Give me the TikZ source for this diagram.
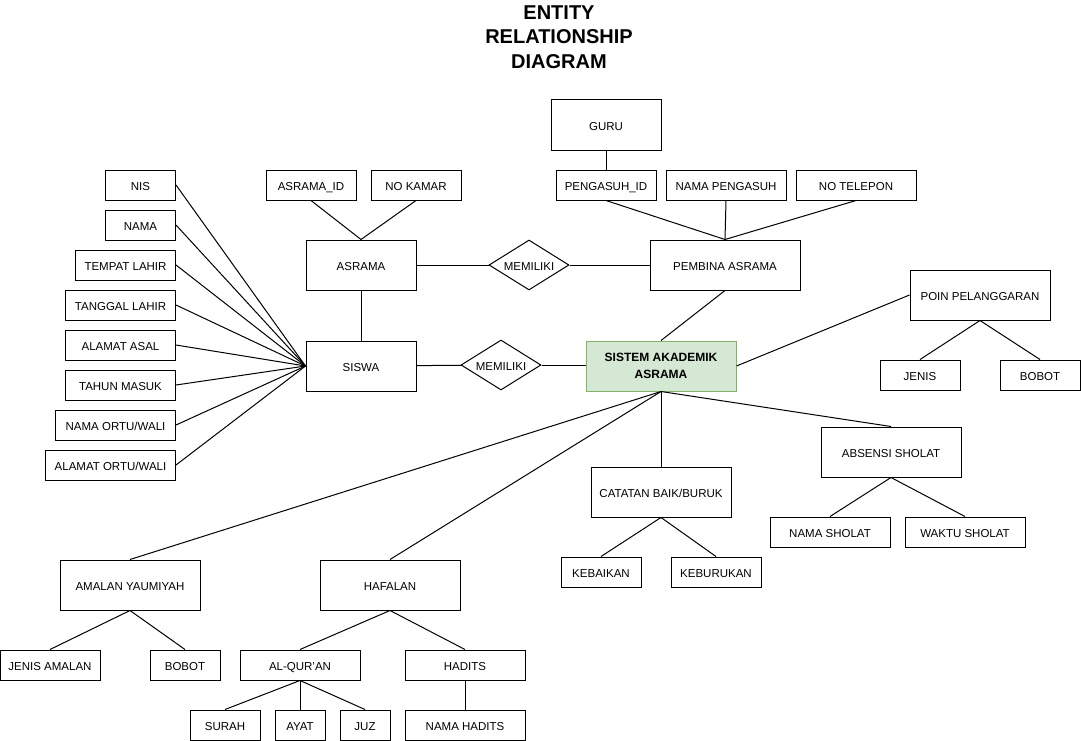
\documentclass[tikz,border=0pt]{standalone}
\usepackage{fontspec}
\setmainfont{Liberation Sans}
\usetikzlibrary{shapes.geometric, positioning}
\definecolor{sistemfill}{HTML}{D5E8D4}
\definecolor{sistemline}{HTML}{82B366}

\begin{document}
\begin{tikzpicture}[x=1pt, y=-1pt, line width=1pt,
	entity/.style={draw,
	minimum width=#1,
	minimum height=50pt,
	inner sep=0pt,
	text height=11pt, text depth=0pt,
	font=\fontsize{11.5}{13}\selectfont},
	attr/.style={draw,
	minimum width=#1,
	minimum height=30pt,
	inner sep=0pt,
	text height=11pt, text depth=0pt,
	font=\fontsize{11.5}{13}\selectfont},
	rel/.style={draw, diamond,
	shape aspect=1.6,
	minimum width=80pt,
	minimum height=50pt,
	inner sep=0pt,
	text height=11pt, text depth=0pt,
	font=\fontsize{11.5}{13}\selectfont}]
	\useasboundingbox (0,0) rectangle (1081,741);
	% title
	\node[font=\fontsize{20}{24.5}\selectfont\bfseries, align=center] (title) at (559,37) {ENTITY\\RELATIONSHIP\\DIAGRAM};
	% entities
	\node[entity=110pt] (asrama) at (361,265) {ASRAMA};
	\node[entity=110pt, below=50pt of asrama] (siswa) {SISWA};
	\node[entity=110pt] (guru) at (606,125) {GURU};
	\node[entity=150pt] (pembina) at (725,265) {PEMBINA ASRAMA};
	\node[draw=sistemline, fill=sistemfill, minimum width=150pt, minimum height=50pt, inner sep=0pt,
	font=\fontsize{12}{16.5}\selectfont\bfseries, align=center] (sistem) at (661,366) {SISTEM AKADEMIK\\ASRAMA};
	\node[entity=140pt] (poin) at (980,295) {POIN PELANGGARAN};
	\node[entity=140pt] (catatan) at (661,492) {CATATAN BAIK/BURUK};
	\node[entity=140pt] (absensi) at (891,452) {ABSENSI SHOLAT};
	\node[entity=140pt] (amalan) at (130,585) {AMALAN YAUMIYAH};
	\node[entity=140pt] (hafalan) at (390,585) {HAFALAN};
	% relations
	\node[rel] (memiliki1) at (529,265) {MEMILIKI};
	\node[rel] (memiliki2) at (501,365) {MEMILIKI};
	% attributes of siswa
	\node[attr=70pt, anchor=east] (nis) at (176,185) {NIS};
	\node[attr=70pt, anchor=east] (nama) at (176,225) {NAMA};
	\node[attr=100pt, anchor=east] (tempat) at (176,265) {TEMPAT LAHIR};
	\node[attr=110pt, anchor=east] (tanggal) at (176,305) {TANGGAL LAHIR};
	\node[attr=110pt, anchor=east] (alamat) at (176,345) {ALAMAT ASAL};
	\node[attr=110pt, anchor=east] (tahun) at (176,385) {TAHUN MASUK};
	\node[attr=120pt, anchor=east] (ortu) at (176,425) {NAMA ORTU/WALI};
	\node[attr=130pt, anchor=east] (alamatortu) at (176,465) {ALAMAT ORTU/WALI};
	% attributes of asrama and pembina
	\node[attr=90pt] (asramaid) at (311,185) {ASRAMA\_ID};
	\node[attr=90pt] (kamar) at (416,185) {NO KAMAR};
	\node[attr=100pt] (pengasuhid) at (606,185) {PENGASUH\_ID};
	\node[attr=120pt] (namapengasuh) at (726,185) {NAMA PENGASUH};
	\node[attr=120pt] (telepon) at (856,185) {NO TELEPON};
	% attributes of the rest
	\node[attr=80pt] (jenis) at (920,375) {JENIS};
	\node[attr=80pt] (bobot1) at (1040,375) {BOBOT};
	\node[attr=80pt] (kebaikan) at (601,572) {KEBAIKAN};
	\node[attr=90pt] (keburukan) at (716,572) {KEBURUKAN};
	\node[attr=120pt] (namasholat) at (830,532) {NAMA SHOLAT};
	\node[attr=120pt] (waktusholat) at (965,532) {WAKTU SHOLAT};
	\node[attr=100pt] (jenisamalan) at (50,665) {JENIS AMALAN};
	\node[attr=70pt] (bobot2) at (185,665) {BOBOT};
	\node[attr=120pt] (quran) at (300,665) {AL-QUR'AN};
	\node[attr=120pt] (hadits) at (465,665) {HADITS};
	\node[attr=70pt] (surah) at (225,725) {SURAH};
	\node[attr=50pt] (ayat) at (300,725) {AYAT};
	\node[attr=50pt] (juz) at (365,725) {JUZ};
	\node[attr=120pt] (namahadits) at (465,725) {NAMA HADITS};
	% Lines
	\foreach \a in {nis,nama,tempat,tanggal,alamat,tahun,ortu,alamatortu}
	\draw (\a.east) -- (siswa.west);
	\draw (asramaid.south) edge (asrama.north)
	(kamar.south) edge (asrama.north)
	(asrama) edge (siswa)
	(asrama) edge (memiliki1)
	(memiliki1) edge (pembina)
	(siswa) edge (memiliki2)
	(memiliki2) edge (sistem.west |- memiliki2)
	(guru) edge (pengasuhid)
	(pengasuhid.south) edge (pembina.north)
	(namapengasuh.south) edge (pembina.north)
	(telepon.south) edge (pembina.north)
	(pembina.south) edge (sistem.north)
	(sistem.east) edge (poin.west)
	(poin.south) edge (jenis.north)
	(poin.south) edge (bobot1.north)
	(sistem.south) edge (catatan.north)
	(sistem.south) edge (absensi.north)
	(sistem.south) edge (amalan.north)
	(sistem.south) edge (hafalan.north)
	(catatan.south) edge (kebaikan.north)
	(catatan.south) edge (keburukan.north)
	(absensi.south) edge (namasholat.north)
	(absensi.south) edge (waktusholat.north)
	(amalan.south) edge (jenisamalan.north)
	(amalan.south) edge (bobot2.north)
	(hafalan.south) edge (quran.north)
	(hafalan.south) edge (hadits.north)
	(quran.south) edge (surah.north)
	(quran.south) edge (ayat.north)
	(quran.south) edge (juz.north)
	(hadits) edge (namahadits);
\end{tikzpicture}
\end{document}
